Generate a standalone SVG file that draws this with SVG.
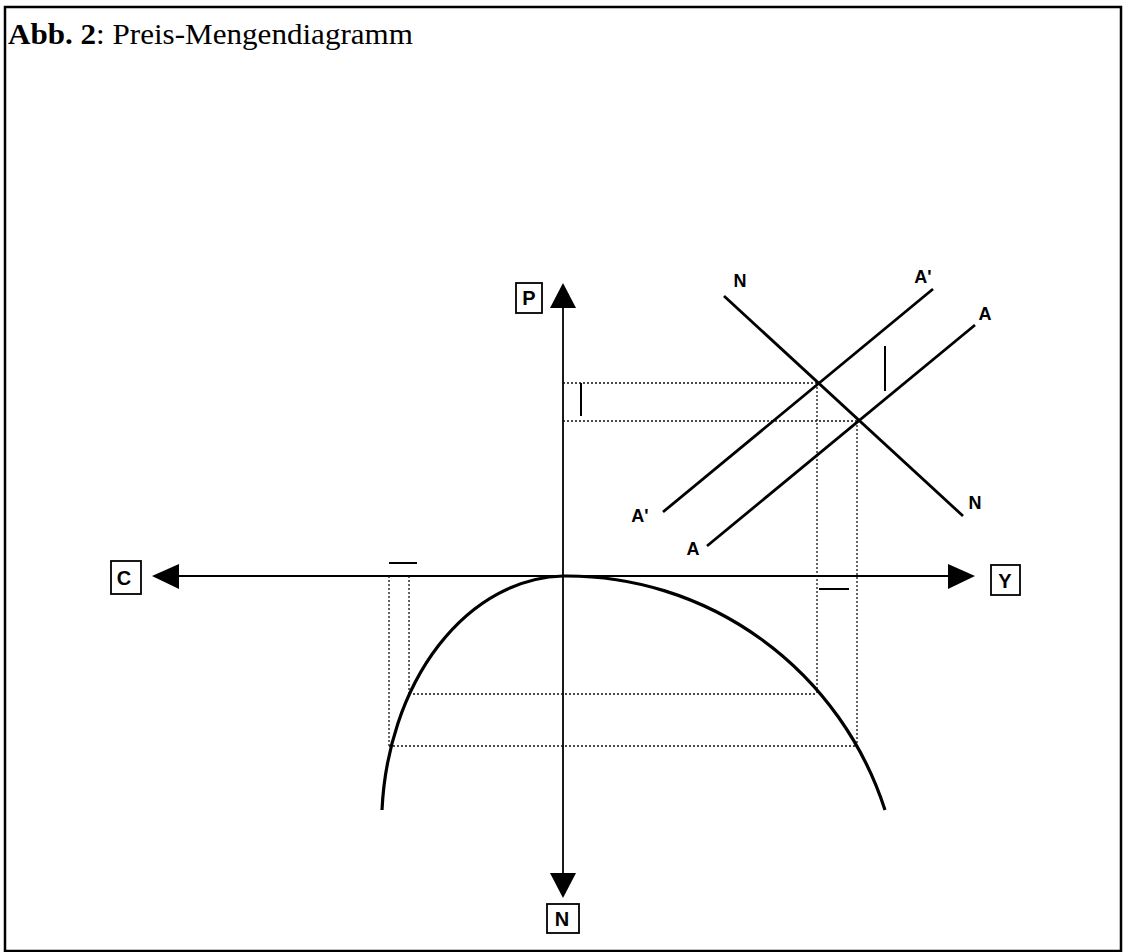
<svg xmlns="http://www.w3.org/2000/svg" width="1123" height="952" viewBox="0 0 1123 952">
<style>
.frame{fill:none;stroke:#000;stroke-width:2.5}
.axis{stroke:#000;stroke-width:1.8;fill:none}
.curve{stroke:#000;stroke-width:3.2;fill:none}
.line{stroke:#000;stroke-width:2.8;fill:none}
.dot{stroke:#111;stroke-width:1.3;stroke-dasharray:2 2;fill:none}
.tick{stroke:#000;stroke-width:2;fill:none}
.head{fill:#000}
.box{fill:#fff;stroke:#000;stroke-width:1.8}
.lbl{font-family:"Liberation Sans",Arial,sans-serif;font-weight:bold;font-size:18px;fill:#000;text-anchor:middle}
.blbl{font-family:"Liberation Sans",Arial,sans-serif;font-weight:bold;font-size:20px;fill:#000;text-anchor:middle}
.title{font-family:"Liberation Serif","Times New Roman",serif;font-size:30px;fill:#000}
</style>
<rect class="frame" x="5" y="7" width="1116" height="944"/>
<text class="title" x="8" y="44" textLength="405" lengthAdjust="spacingAndGlyphs"><tspan font-weight="bold">Abb. 2</tspan>: Preis-Mengendiagramm</text>

<g id="connectors">
  <line class="axis" x1="563" y1="300" x2="563" y2="880"/>
  <line class="axis" x1="170" y1="576" x2="960" y2="576"/>
  <polygon class="head" points="563,283 550,308 576,308"/>
  <polygon class="head" points="563,898 550,873 576,873"/>
  <polygon class="head" points="152,576 179,564 179,589"/>
  <polygon class="head" points="975,576 948,564 948,589"/>
  <g id="dotted">
    <line class="dot" x1="563" y1="383" x2="818" y2="383"/>
    <line class="dot" x1="563" y1="421" x2="859" y2="421"/>
    <line class="dot" x1="817" y1="383" x2="817" y2="694"/>
    <line class="dot" x1="857" y1="421" x2="857" y2="746"/>
    <line class="dot" x1="389" y1="576" x2="389" y2="746"/>
    <line class="dot" x1="409" y1="576" x2="409" y2="694"/>
    <line class="dot" x1="409" y1="694" x2="817" y2="694"/>
    <line class="dot" x1="389" y1="746" x2="857" y2="746"/>
  </g>
  <g id="ticks">
    <line class="tick" x1="389" y1="563" x2="417" y2="563"/>
    <line class="tick" x1="819" y1="589" x2="849" y2="589"/>
    <line class="tick" x1="581" y1="383" x2="581" y2="416"/>
    <line class="tick" x1="885" y1="346" x2="885" y2="391"/>
  </g>
</g>

<g id="curve">
  <path class="curve" d="M 382 810 A 185 250 0 0 1 563 576 A 335 340 0 0 1 885 810"/>
</g>

<g id="line-N">
  <line class="line" x1="724" y1="296" x2="963" y2="516"/>
  <text class="lbl" x="740" y="287">N</text>
  <text class="lbl" x="975" y="509">N</text>
</g>
<g id="line-A1">
  <line class="line" x1="663" y1="512" x2="933" y2="289"/>
  <text class="lbl" x="923" y="283">A'</text>
  <text class="lbl" x="640" y="522">A'</text>
</g>
<g id="line-A">
  <line class="line" x1="707" y1="546" x2="975" y2="325"/>
  <text class="lbl" x="985" y="320">A</text>
  <text class="lbl" x="693" y="555">A</text>
</g>

<g id="node-P">
  <rect class="box" x="516" y="283" width="26" height="30"/>
  <text class="blbl" x="529" y="305">P</text>
</g>
<g id="node-C">
  <rect class="box" x="111" y="561" width="30" height="33"/>
  <text class="blbl" x="124" y="585">C</text>
</g>
<g id="node-Y">
  <rect class="box" x="991" y="565" width="29" height="30"/>
  <text class="blbl" x="1005" y="588">Y</text>
</g>
<g id="node-N">
  <rect class="box" x="547" y="904" width="32" height="29"/>
  <text class="blbl" x="562" y="926">N</text>
</g>
</svg>
